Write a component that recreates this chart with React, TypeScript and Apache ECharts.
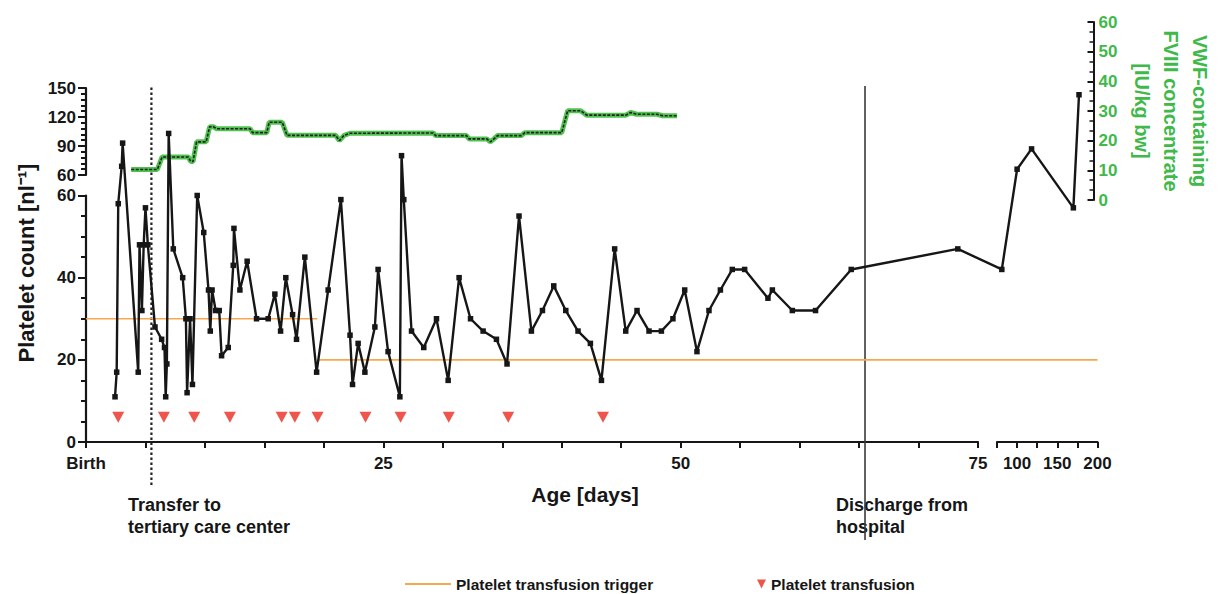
import React, { useEffect, useRef } from "react";
import * as echarts from "echarts";

// ---------------- data ----------------
// Platelet count [nl^-1] by age [days]
const plateletDays = [
  2.44, 2.58, 2.71, 3.0, 3.08, 4.39, 4.5, 4.7, 4.85, 5.0, 5.2, 5.8, 6.36, 6.6, 6.7, 6.8, 6.95,
  7.34, 8.13, 8.4, 8.5, 8.75, 8.95, 9.35, 9.9, 10.3, 10.45, 10.6, 10.9, 11.2, 11.4, 11.96,
  12.38, 12.44, 12.94, 13.55, 14.34, 15.32, 15.88, 16.36, 16.8, 17.37, 17.7, 18.4, 19.39,
  20.36, 21.43, 22.2, 22.41, 22.88, 23.45, 24.29, 24.56, 25.4, 26.39, 26.53, 26.72, 27.37,
  28.4, 29.47, 30.45, 31.37, 32.33, 33.39, 34.51, 35.4, 36.41, 37.45, 38.38, 39.33, 40.34,
  41.37, 42.41, 43.34, 44.45, 45.38, 46.33, 47.34, 48.38, 49.35, 50.34, 51.37, 52.38, 53.34,
  54.34, 55.38, 57.34, 57.71, 59.39, 61.34, 64.34, 73.3, 81, 100, 118, 170, 177,
];
const plateletValues = [
  11, 17, 58, 69, 93, 17, 48, 32, 48, 57, 48, 28, 25, 23, 11, 19, 103,
  47, 40, 30, 12, 30, 14, 60, 51, 37, 27, 37, 32, 32, 21, 23,
  43, 52, 37, 44, 30, 30, 36, 27, 40, 31, 25, 45, 17,
  37, 59, 26, 14, 24, 17, 28, 42, 22, 11, 80, 59, 27,
  23, 30, 15, 40, 30, 27, 25, 19, 55, 27, 32, 38, 32,
  27, 24, 15, 47, 27, 32, 27, 27, 30, 37, 22, 32, 37,
  42, 42, 35, 37, 32, 32, 42, 47, 42, 66, 87, 57, 143,
];

// VWF-containing FVIII concentrate [IU/kg bw]
const vwfDays = [
  3.8, 6.0, 6.4, 8.6, 8.8, 9.0, 9.3, 10.1, 10.4, 10.7, 11.0, 13.8, 14.0, 15.2, 15.4, 16.5,
  16.9, 21.0, 21.3, 21.7, 22.2, 29.2, 29.4, 32.0, 32.2, 33.7, 34.0, 34.3, 34.6, 36.6, 36.9,
  40.0, 40.5, 41.6, 42.1, 45.4, 45.8, 46.3, 48.0, 48.5, 49.7,
];
const vwfValues = [
  10.3, 10.3, 14.5, 14.5, 13, 13, 19.6, 19.6, 24.7, 24.7, 24, 24, 22.7, 22.7, 26.2, 26.2,
  21.8, 21.8, 20, 21.8, 22.5, 22.6, 21.7, 21.7, 20.6, 20.6, 19.6, 20.6, 21.7, 21.7, 22.7,
  22.7, 30.1, 30.1, 28.6, 28.6, 29.5, 28.9, 28.9, 28.4, 28.4,
];

// Platelet transfusions (days)
const transfusionDays = [2.71, 6.55, 9.1, 12.1, 16.45, 17.56, 19.47, 23.5, 26.45, 30.5, 35.5, 43.47];

// Platelet transfusion trigger [nl^-1]
const triggerEarlyDays = [0, 19.45];
const triggerEarlyValue = 30;
const triggerLateDays = [19.45, 200];
const triggerLateValue = 20;

// Events (days)
const transferDay = 5.5;
const dischargeDay = 65.5;

// Axis ticks
const xLeftLabels: Record<number, string> = { 0: "Birth", 25: "25", 50: "50", 75: "75" };
const xRightLabels: Record<number, string> = { 100: "100", 150: "150", 200: "200" };

// ---------------- layout ----------------
const W = 1219;
const H = 594;
const L = 86;
const XBRK = 978;
const XR0 = 997;
const XR = 1097.5;
const T = 88;
const UB = 175;
const LT = 195.5;
const B = 442;
const GT = 22;
const GB = 200;
const ANN_T = 86;
const ANN_B = 540;

const pxPerDay = (XBRK - L) / 75;
const xGap = (XR0 - XBRK) / pxPerDay;
const xk = (XR - XR0) / 125 / pxPerDay;
const xMaxD = (XR - L) / pxPerDay;
const dX = (d: number) => (d <= 75 ? d : 75 + xGap + (d - 75) * xk);

const pxPerUnit = (B - LT) / 60;
const yGap = (LT - UB) / pxPerUnit;
const yk = (UB - T) / 90 / pxPerUnit;
const yMaxD = (B - T) / pxPerUnit;
const dY = (v: number) => (v <= 60 ? v : 60 + yGap + (v - 60) * yk);

const FONT = "'Liberation Sans', Arial, Helvetica, sans-serif";
const INK = "#161616";
const GREEN = "#3fb94a";
const ORANGE = "#f7a84e";
const RED = "#ea2a1f";

const labelStyle = { color: INK, fontWeight: "bold" as const, fontSize: 17, fontFamily: FONT };

export default function App() {
  const ref = useRef<HTMLDivElement>(null);
  useEffect(() => {
    if (!ref.current) return;
    const chart = echarts.init(ref.current, null, { renderer: "svg" });

    const plotW = XR - L;
    const hiddenX = (g: number) => ({ type: "value", gridIndex: g, min: 0, max: xMaxD, show: false });

    const option: any = {
      animation: false,
      backgroundColor: "#ffffff",
      grid: [
        { left: L, top: T, width: plotW, height: B - T, outerBoundsMode: "none" },
        { left: L, top: GT, width: plotW, height: GB - GT, outerBoundsMode: "none" },
        { left: L, top: ANN_T, width: plotW, height: ANN_B - ANN_T, outerBoundsMode: "none" },
        { left: L, top: LT, width: XBRK - L, height: B - LT, outerBoundsMode: "none" },
        { left: L, top: T, width: XBRK - L, height: UB - T, outerBoundsMode: "none" },
        { left: XR0, top: LT, width: XR - XR0, height: B - LT, outerBoundsMode: "none" },
      ],
      xAxis: [
        hiddenX(0),
        hiddenX(1),
        hiddenX(2),
        {
          type: "value",
          gridIndex: 3,
          min: 0,
          max: 75,
          interval: 5,
          axisLine: { show: true, onZero: false, lineStyle: { color: INK, width: 2.2 } },
          axisTick: { show: true, length: 6, lineStyle: { color: INK, width: 2 } },
          axisLabel: {
            ...labelStyle,
            margin: 13,
            showMinLabel: true,
            showMaxLabel: true,
            formatter: (v: number) => xLeftLabels[Math.round(v)] ?? "",
          },
          splitLine: { show: false },
        },
        { type: "value", gridIndex: 4, min: 0, max: 75, show: false },
        {
          type: "value",
          gridIndex: 5,
          min: 75,
          max: 200,
          interval: 25,
          axisLine: { show: true, onZero: false, lineStyle: { color: INK, width: 2.2 } },
          axisTick: { show: true, length: 6, lineStyle: { color: INK, width: 2 } },
          axisLabel: {
            ...labelStyle,
            margin: 13,
            showMinLabel: true,
            showMaxLabel: true,
            formatter: (v: number) => xRightLabels[Math.round(v)] ?? "",
          },
          splitLine: { show: false },
        },
      ],
      yAxis: [
        { type: "value", gridIndex: 0, min: 0, max: yMaxD, show: false },
        {
          type: "value",
          gridIndex: 1,
          position: "right",
          offset: -4,
          min: 0,
          max: 60,
          interval: 10,
          axisLine: { show: true, onZero: false, lineStyle: { color: INK, width: 2 } },
          axisTick: { show: true, inside: true, length: 6, lineStyle: { color: INK, width: 2 } },
          minorTick: { show: true, splitNumber: 3, length: 4, lineStyle: { color: INK, width: 1.5 } },
          axisLabel: { ...labelStyle, color: GREEN, margin: 5 },
          splitLine: { show: false },
          minorSplitLine: { show: false },
        },
        { type: "value", gridIndex: 2, min: 0, max: 1, show: false },
        {
          type: "value",
          gridIndex: 3,
          min: 0,
          max: 60,
          interval: 20,
          axisLine: { show: true, onZero: false, lineStyle: { color: INK, width: 2.2 } },
          axisTick: { show: true, length: 8, lineStyle: { color: INK, width: 2 } },
          minorTick: { show: true, splitNumber: 4, length: 5, lineStyle: { color: INK, width: 2 } },
          axisLabel: { ...labelStyle, margin: 10 },
          splitLine: { show: false },
          minorSplitLine: { show: false },
        },
        {
          type: "value",
          gridIndex: 4,
          min: 60,
          max: 150,
          interval: 30,
          axisLine: { show: true, onZero: false, lineStyle: { color: INK, width: 2.2 } },
          axisTick: { show: true, length: 8, lineStyle: { color: INK, width: 2 } },
          minorTick: { show: true, splitNumber: 5, length: 5, lineStyle: { color: INK, width: 2 } },
          axisLabel: { ...labelStyle, margin: 10 },
          splitLine: { show: false },
          minorSplitLine: { show: false },
        },
        { type: "value", gridIndex: 5, min: 0, max: 60, show: false },
      ],
      legend: [
        {
          left: 405,
          top: 576,
          padding: 0,
          selectedMode: false,
          itemWidth: 46,
          itemHeight: 2,
          data: [{ name: "Platelet transfusion trigger", icon: "rect" }],
          textStyle: { color: INK, fontWeight: "bold", fontSize: 15.5, fontFamily: FONT },
        },
        {
          left: 757,
          top: 576,
          padding: 0,
          selectedMode: false,
          itemWidth: 9,
          itemHeight: 10,
          data: [{ name: "Platelet transfusion", icon: "path://M0,0L10,0L5,10Z" }],
          textStyle: { color: INK, fontWeight: "bold", fontSize: 15.5, fontFamily: FONT },
        },
      ],
      series: [
        {
          name: "Platelet transfusion trigger",
          type: "line",
          xAxisIndex: 0,
          yAxisIndex: 0,
          symbol: "none",
          data: triggerEarlyDays.map((d) => [dX(d), dY(triggerEarlyValue)]),
          lineStyle: { color: ORANGE, width: 1.6 },
          itemStyle: { color: ORANGE },
          z: 2,
        },
        {
          name: "Platelet transfusion trigger",
          type: "line",
          xAxisIndex: 0,
          yAxisIndex: 0,
          symbol: "none",
          data: triggerLateDays.map((d) => [dX(d), dY(triggerLateValue)]),
          lineStyle: { color: ORANGE, width: 1.6 },
          itemStyle: { color: ORANGE },
          z: 2,
        },
        {
          name: "VWF halo",
          type: "line",
          xAxisIndex: 1,
          yAxisIndex: 1,
          symbol: "none",
          data: vwfDays.map((d, i) => [dX(d), vwfValues[i]]),
          lineStyle: { color: "#4fc24f", width: 5 },
          z: 3,
        },
        {
          name: "VWF",
          type: "line",
          xAxisIndex: 1,
          yAxisIndex: 1,
          symbol: "none",
          data: vwfDays.map((d, i) => [dX(d), vwfValues[i]]),
          lineStyle: { color: "#1f1f1f", width: 1.6, type: [3, 1.5] },
          z: 4,
        },
        {
          name: "Transfer",
          type: "line",
          xAxisIndex: 2,
          yAxisIndex: 2,
          symbol: "none",
          data: [
            [dX(transferDay), 0.121],
            [dX(transferDay), 1],
          ],
          lineStyle: { color: "#222", width: 2.2, type: [2.5, 2.5] },
          z: 1,
        },
        {
          name: "Discharge",
          type: "line",
          xAxisIndex: 2,
          yAxisIndex: 2,
          symbol: "none",
          data: [
            [dX(dischargeDay), 0],
            [dX(dischargeDay), 1],
          ],
          lineStyle: { color: "#3a3a3a", width: 1.6 },
          z: 1,
        },
        {
          name: "Platelet count",
          type: "line",
          xAxisIndex: 0,
          yAxisIndex: 0,
          symbol: "rect",
          symbolSize: 5.5,
          data: plateletDays.map((d, i) => [dX(d), dY(plateletValues[i])]),
          lineStyle: { color: INK, width: 2.4 },
          itemStyle: { color: INK },
          z: 5,
        },
        {
          name: "Platelet transfusion",
          type: "scatter",
          xAxisIndex: 0,
          yAxisIndex: 0,
          symbol: "triangle",
          symbolRotate: 180,
          symbolSize: [12, 11],
          data: transfusionDays.map((d) => [dX(d), 6]),
          itemStyle: { color: RED },
          z: 6,
        },
      ],
      graphic: [
        {
          type: "text",
          x: 26,
          y: 263,
          rotation: Math.PI / 2,
          style: {
            text: "Platelet count [nl⁻¹]",
            fill: INK,
            font: `bold 22px ${FONT}`,
            textAlign: "center",
            textVerticalAlign: "middle",
            align: "center",
            verticalAlign: "middle",
          },
        },
        {
          type: "text",
          x: 585,
          y: 494,
          style: {
            text: "Age [days]",
            fill: INK,
            font: `bold 21px ${FONT}`,
            textAlign: "center",
            textVerticalAlign: "middle",
            align: "center",
            verticalAlign: "middle",
          },
        },
        {
          type: "text",
          x: 128,
          y: 494,
          style: {
            text: "Transfer to\ntertiary care center",
            fill: INK,
            font: `bold 18px ${FONT}`,
            lineHeight: 22,
            textAlign: "left",
            textVerticalAlign: "top",
            align: "left",
            verticalAlign: "top",
          },
        },
        {
          type: "text",
          x: 836,
          y: 494,
          style: {
            text: "Discharge from\nhospital",
            fill: INK,
            font: `bold 18px ${FONT}`,
            lineHeight: 22,
            textAlign: "left",
            textVerticalAlign: "top",
            align: "left",
            verticalAlign: "top",
          },
        },
        {
          type: "text",
          x: 1171,
          y: 111,
          rotation: -Math.PI / 2,
          style: {
            text: "VWF-containing\nFVIII concentrate\n[IU/kg bw]",
            fill: GREEN,
            font: `bold 20px ${FONT}`,
            lineHeight: 29,
            textAlign: "center",
            textVerticalAlign: "middle",
            align: "center",
            verticalAlign: "middle",
          },
        },
      ],
    };

    chart.setOption(option);
    return () => chart.dispose();
  }, []);

  return (
    <div
      ref={ref}
      style={{ position: "absolute", left: 0, top: 0, width: W, height: H, background: "#fff" }}
    />
  );
}
